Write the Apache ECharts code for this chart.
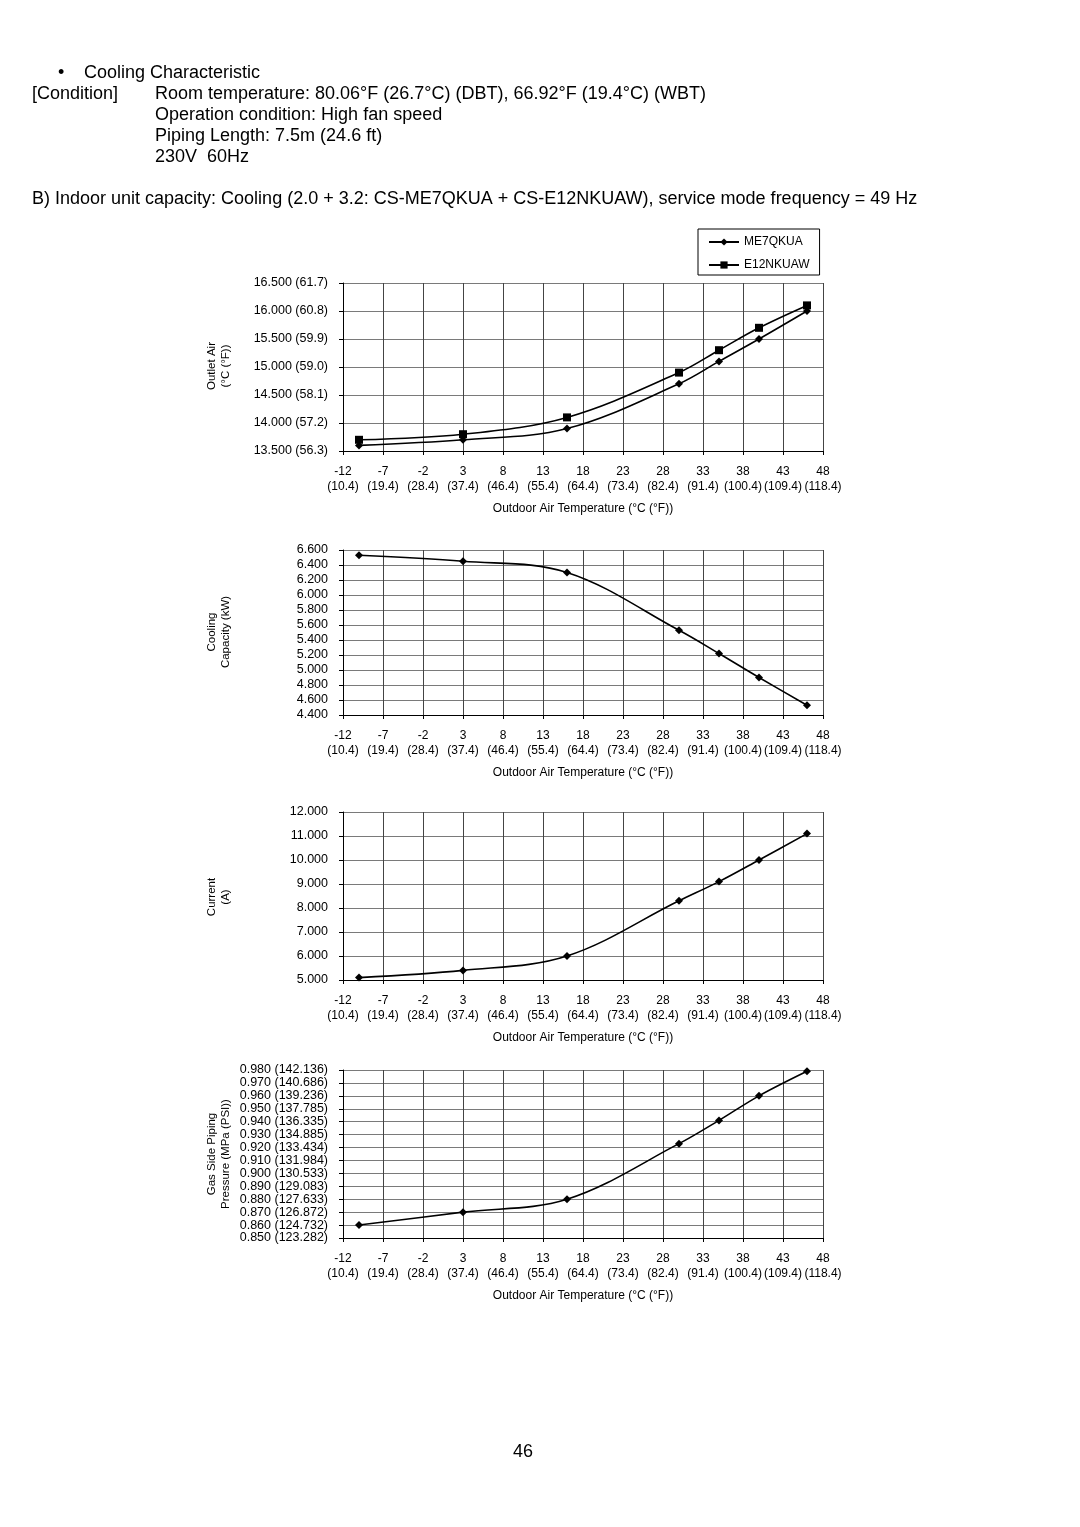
<!DOCTYPE html>
<html>
<head>
<meta charset="utf-8">
<script src="https://cdn.jsdelivr.net/npm/echarts@6/dist/echarts.min.js"></script>
<style>
html,body{margin:0;padding:0;background:#fff;}
#main{width:1080px;height:1527px;}
</style>
</head>
<body>
<div id="main"></div>
<script>
// ---- Data ----
var outdoorTemp = [-10, 3, 16, 30, 35, 40, 46];
var outletME7 = [13.6, 13.7, 13.9, 14.7, 15.1, 15.5, 16.0];
var outletE12 = [13.7, 13.8, 14.1, 14.9, 15.3, 15.7, 16.1];
var capacity = [6.53, 6.45, 6.30, 5.53, 5.22, 4.90, 4.53];
var current = [5.1, 5.4, 6.0, 8.3, 9.1, 10.0, 11.1];
var pressure = [0.860, 0.870, 0.880, 0.923, 0.941, 0.960, 0.979];

// ---- Tick labels ----
var xTickC = ['-12','-7','-2','3','8','13','18','23','28','33','38','43','48'];
var xTickF = ['10.4','19.4','28.4','37.4','46.4','55.4','64.4','73.4','82.4','91.4','100.4','109.4','118.4'];
var outletTicks = ['13.500 (56.3)','14.000 (57.2)','14.500 (58.1)','15.000 (59.0)','15.500 (59.9)','16.000 (60.8)','16.500 (61.7)'];
var capacityTicks = ['4.400','4.600','4.800','5.000','5.200','5.400','5.600','5.800','6.000','6.200','6.400','6.600'];
var currentTicks = ['5.000','6.000','7.000','8.000','9.000','10.000','11.000','12.000'];
var pressureTicks = ['0.850 (123.282)','0.860 (124.732)','0.870 (126.872)','0.880 (127.633)','0.890 (129.083)','0.900 (130.533)','0.910 (131.984)','0.920 (133.434)','0.930 (134.885)','0.940 (136.335)','0.950 (137.785)','0.960 (139.236)','0.970 (140.686)','0.980 (142.136)'];

var FONT = '"Liberation Sans", Arial, sans-serif';

function pairs(xs, ys){ return xs.map(function(x,i){ return [x, ys[i]]; }); }

var gridTops = [283, 550, 812, 1070];
var gridHeights = [168, 165, 168, 168];
var yCfg = [
  {min:13.5, max:16.5, interval:0.5, ticks: outletTicks},
  {min:4.4, max:6.6, interval:0.2, ticks: capacityTicks},
  {min:5, max:12, interval:1, ticks: currentTicks},
  {min:0.85, max:0.98, interval:0.01, ticks: pressureTicks}
];

var grids = [], xAxes = [], yAxes = [];
gridTops.forEach(function(t, i){
  grids.push({left:343, top:t, width:480, height:gridHeights[i], containLabel:false});
  xAxes.push({
    type:'category', gridIndex:i, data: xTickC, boundaryGap:false,
    axisLine:{show:true, onZero:false, lineStyle:{color:'#000', width:1}},
    axisTick:{show:true, length:4, inside:false, lineStyle:{color:'#000'}},
    axisLabel:{
      margin:13, color:'#000', fontFamily:FONT, fontSize:12, lineHeight:15, interval:0,
      formatter:function(v, idx){ return v + '\n(' + xTickF[idx] + ')'; }
    },
    splitLine:{show:true, lineStyle:{color:'#444', width:1}},
    name:'Outdoor Air Temperature (°C (°F))', nameLocation:'middle', nameGap:52,
    nameTextStyle:{color:'#000', fontFamily:FONT, fontSize:12}
  });
  xAxes.push({type:'value', gridIndex:i, min:-12, max:48, show:false});
  var c = yCfg[i];
  yAxes.push({
    type:'value', gridIndex:i, min:c.min, max:c.max, interval:c.interval,
    axisLine:{show:true, onZero:false, lineStyle:{color:'#000', width:1}},
    axisTick:{show:true, length:4, lineStyle:{color:'#000'}},
    axisLabel:{
      margin:15, color:'#000', fontFamily:FONT, fontSize:12.5,
      formatter:(function(cc){ return function(v){
        var k = Math.round((v - cc.min)/cc.interval);
        return cc.ticks[k] !== undefined ? cc.ticks[k] : '';
      }; })(c)
    },
    splitLine:{show:true, lineStyle:{color:'#7a7a7a', width:1}}
  });
});

function lineSeries(name, gi, ys, symbol, size){
  return {
    name:name, type:'line', xAxisIndex:gi*2+1, yAxisIndex:gi,
    data: pairs(outdoorTemp, ys), smooth:0.35,
    symbol:symbol, symbolSize:size, showAllSymbol:true,
    lineStyle:{color:'#000', width:1.6}, itemStyle:{color:'#000'},
    emphasis:{disabled:true}, animation:false
  };
}

var headerFont = '18px ' + FONT;
function txt(x, y, s, font){
  return {type:'text', x:x, y:y, style:{text:s, fill:'#000', font: font || headerFont, verticalAlign:'middle', align:'left'}};
}
function ytitle(cx, cy, s){
  return {type:'text', x:cx, y:cy, rotation:Math.PI/2,
    style:{text:s, fill:'#000', font:'11.5px ' + FONT, align:'center', verticalAlign:'middle', lineHeight:14}};
}

var option = {
  backgroundColor:'#fff',
  animation:false,
  textStyle:{fontFamily:FONT},
  grid: grids, xAxis: xAxes, yAxis: yAxes,
  legend:{
    show:true, data:['ME7QKUA','E12NKUAW'], orient:'vertical',
    left:698, top:229, itemWidth:30, itemHeight:9, itemGap:11,
    padding:[7,10,4,10], borderColor:'#000', borderWidth:1,
    textStyle:{color:'#000', fontFamily:FONT, fontSize:12},
    selectedMode:false
  },
  series:[
    lineSeries('ME7QKUA', 0, outletME7, 'diamond', 8),
    lineSeries('E12NKUAW', 0, outletE12, 'rect', 8),
    lineSeries('Cooling Capacity', 1, capacity, 'diamond', 8),
    lineSeries('Current', 2, current, 'diamond', 8),
    lineSeries('Gas Side Piping Pressure', 3, pressure, 'diamond', 8)
  ],
  graphic:[
    txt(58, 73, '•'),
    txt(84, 73, 'Cooling Characteristic'),
    txt(32, 94, '[Condition]'),
    txt(155, 94, 'Room temperature: 80.06°F (26.7°C) (DBT), 66.92°F (19.4°C) (WBT)'),
    txt(155, 115, 'Operation condition: High fan speed'),
    txt(155, 136, 'Piping Length: 7.5m (24.6 ft)'),
    txt(155, 157, '230V  60Hz'),
    txt(32, 199, 'B) Indoor unit capacity: Cooling (2.0 + 3.2: CS-ME7QKUA + CS-E12NKUAW), service mode frequency = 49 Hz'),
    ytitle(219, 366, 'Outlet Air\n(°C (°F))'),
    ytitle(219, 632, 'Cooling\nCapacity (kW)'),
    ytitle(219, 897, 'Current\n(A)'),
    ytitle(219, 1154, 'Gas Side Piping\nPressure (MPa (PSI))'),
    txt(513, 1452, '46')
  ]
};

var chart = echarts.init(document.getElementById('main'), null, {renderer:'canvas'});
chart.setOption(option);
</script>
</body>
</html>
